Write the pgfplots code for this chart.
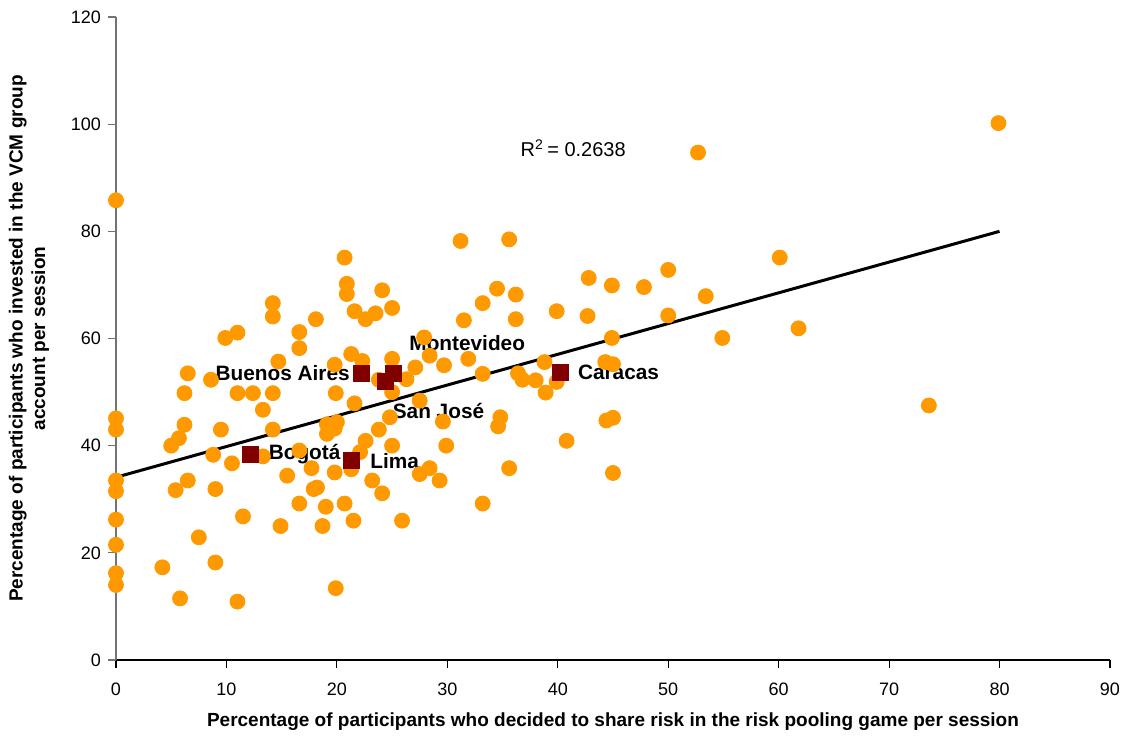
\documentclass[border=0pt]{standalone}
\usepackage{pgfplots}
\pgfplotsset{compat=1.18}
\usepackage{fontspec}
\setmainfont{Liberation Sans}
\definecolor{dotor}{HTML}{FF9900}
\definecolor{sqred}{HTML}{800000}
\begin{document}
\begin{tikzpicture}
\begin{axis}[
  scale only axis,
  width=497pt, height=321.5pt,
  xmin=0, xmax=90, ymin=0, ymax=120,
  xtick={0,10,...,90}, ytick={0,20,...,120},
  axis lines*=left,
  axis line style={-},
  x axis line style={black, line width=0.6pt},
  y axis line style={gray!90!black, line width=0.6pt},
  tick align=outside,
  major tick length=4pt,
  xtick style={black, line width=0.6pt},
  ytick style={gray!90!black, line width=0.6pt},
  tick label style={font=\fontsize{9}{10}\selectfont},
  xticklabel style={yshift=-4pt},
  /pgf/number format/assume math mode=true,
  clip=false,
  xlabel={\textbf{Percentage of participants who decided to share risk in the risk pooling game per session}},
  ylabel={\textbf{Percentage of participants who invested in the VCM group}\\\textbf{account per session}},
  every axis x label/.style={at={(axis description cs:0.5,-0.0964)}, anchor=center, font=\fontsize{9.5}{10}\selectfont},
  every axis y label/.style={at={(axis description cs:-0.0875,0.5)}, anchor=center, rotate=90, align=center, font=\fontsize{9.5}{11.2}\selectfont},
]
\addplot[only marks, mark=*, mark size=3.75pt, mark options={draw=dotor, fill=dotor}] coordinates {
(0,85.8) (0,45.1) (0,43.0) (0,33.5) (0,31.5) (0,26.2) (0,21.5) (0,16.2) (0,14.0)
(4.2,17.3) (5.0,40.0) (5.7,41.4) (6.2,43.9) (6.2,49.8) (6.5,53.5) (6.5,33.5)
(5.4,31.7) (5.8,11.5) (7.5,22.9) (8.6,52.3) (8.8,38.3) (9.0,31.9) (9.0,18.2)
(9.5,43.0) (9.9,60.1) (10.5,36.7) (11.0,61.1) (11.0,49.8) (11.0,10.9) (11.5,26.8)
(12.4,49.8) (13.3,46.7) (13.3,38.0) (14.2,66.6) (14.2,64.1) (14.2,49.8) (14.2,43.0)
(14.7,55.7) (14.9,25.0) (15.5,34.4) (16.6,61.2) (16.6,58.2) (16.6,39.1) (16.6,29.2)
(17.7,35.8) (17.9,31.9) (18.2,32.2) (18.1,63.6) (18.7,25.0) (19.0,28.6) (19.1,44.0)
(19.1,42.2) (19.8,43.2) (20.0,44.4) (19.9,49.8) (19.8,55.1) (19.8,35.0) (19.9,13.4)
(20.7,75.1) (20.9,70.2) (20.9,68.3) (20.7,29.2) (21.3,57.1) (21.3,35.6) (21.5,26.0)
(21.6,65.1) (21.6,47.9) (22.1,38.8) (22.3,55.8) (22.6,63.6) (22.6,40.9) (23.2,33.5)
(23.5,64.7) (23.8,52.3) (23.8,43.0) (24.1,69.0) (24.1,31.1) (24.8,45.3) (25.0,65.7)
(25.0,56.2) (25.0,50.0) (25.0,40.0) (25.9,26.0) (26.3,52.4) (27.1,54.6) (27.5,48.4)
(27.5,34.7) (27.9,60.2) (28.4,56.8) (28.4,35.8) (29.3,33.5) (29.6,44.5) (29.7,55.0)
(29.9,40.0) (31.2,78.2) (31.5,63.4) (31.9,56.2) (33.2,66.6) (33.2,53.4) (33.2,29.2)
(34.5,69.3) (34.6,43.6) (34.8,45.3) (35.6,78.5) (35.6,35.8) (36.2,68.2) (36.2,63.6)
(36.4,53.5) (36.8,52.3) (38.0,52.2) (38.8,55.6) (38.9,49.9) (39.9,65.1) (39.9,51.9)
(40.8,40.9) (42.7,64.2) (42.8,71.3) (44.3,55.6) (44.4,44.7) (44.9,69.9) (44.9,60.1)
(45.0,55.2) (45.0,45.2) (45.0,34.9) (47.8,69.6) (50.0,72.8) (50.0,64.3) (52.7,94.7)
(53.4,67.9) (54.9,60.1) (60.1,75.1) (61.8,61.9) (73.6,47.5) (79.9,100.2)
};
\addplot[black, line width=1.5pt] coordinates {(0,34.1) (80,80.0)};
\addplot[only marks, mark=square*, mark size=4pt, mark options={draw=sqred, fill=sqred}] coordinates {
(12.2,38.3) (22.2,53.5) (24.4,52.0) (25.1,53.5) (21.3,37.3) (40.2,53.7)
};
\begin{scope}[every node/.style={font=\fontsize{10.4}{12}\selectfont\bfseries, inner sep=0pt}]
\node[anchor=east] at (axis cs:21.2,53.6) {Buenos Aires};
\node[anchor=center] at (axis cs:31.8,59.1) {Montevideo};
\node[anchor=center] at (axis cs:29.2,46.5) {San José};
\node[anchor=west] at (axis cs:13.8,38.5) {Bogotá};
\node[anchor=west] at (axis cs:23.0,37.2) {Lima};
\node[anchor=west] at (axis cs:41.8,53.6) {Caracas};
\end{scope}
\node[anchor=center, inner sep=0pt, font=\fontsize{10}{12}\selectfont] at (axis cs:41.4,95.5) {R$^{\mathrm{2}}$\,= 0.2638};
\end{axis}
\pgfresetboundingbox
\path (-58pt,-40pt) rectangle (505pt,330pt);
\end{tikzpicture}
\end{document}
